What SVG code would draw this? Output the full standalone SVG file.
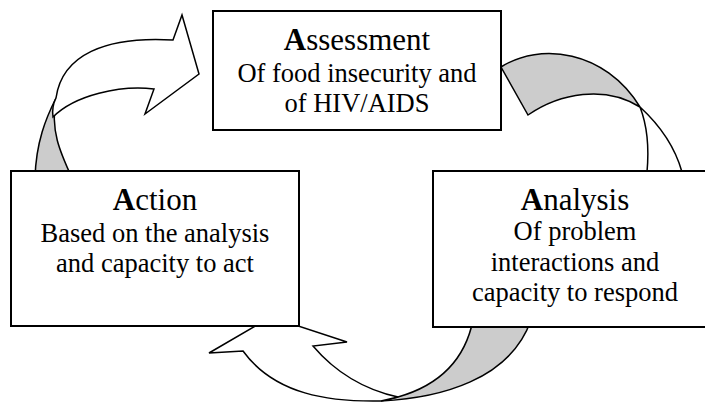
<svg xmlns="http://www.w3.org/2000/svg" width="705" height="402" viewBox="0 0 705 402">
<style>
  .box { fill: #ffffff; stroke: #000000; stroke-width: 2; }
  .face { fill: #ffffff; stroke: #000000; stroke-width: 1.5; stroke-linejoin: miter; }
  .back { fill: #cccccc; stroke: #000000; stroke-width: 1.5; stroke-linejoin: miter; }
  .title { font-family: "Liberation Serif", "Times New Roman", serif; font-size: 31px; fill: #000000; text-anchor: middle; }
  .body { font-family: "Liberation Serif", "Times New Roman", serif; font-size: 26.5px; fill: #000000; text-anchor: middle; }
  .b { font-weight: bold; }
</style>
<rect x="0" y="0" width="705" height="402" fill="#ffffff"/>
<g id="connectors">
  <!-- Action -> Assessment -->
  <g id="arrow-action-assessment">
    <path class="back" d="M 56,98 C 46,118 36,142 35,178 L 72,178 C 60,152 50,130 56,98 Z"/>
    <path class="face" d="M 56,98 C 62,55 105,36 173,40 L 182,15 L 199,74 L 145,114 L 154,89 C 120,85 75,95 53,117 C 52,110 53,104 56,98 Z"/>
  </g>
  <!-- Assessment -> Analysis -->
  <g id="arrow-assessment-analysis">
    <path class="back" d="M 501,67 C 540,42 605,50 640,107 C 605,85 560,93 528,115 Z"/>
    <path class="face" d="M 640,107 C 652,118 673,140 682,172 L 682,200 L 647,200 L 647,172 C 649,150 647,125 640,107 Z"/>
  </g>
  <!-- Analysis -> Action -->
  <g id="arrow-analysis-action">
    <path class="back" d="M 473,320 C 465,360 440,385 398,397 L 381,401 C 440,398 510,380 531,320 Z"/>
    <path class="face" d="M 381,401 C 330,402 275,395 243,351 L 209,353 L 271,317 L 347,342 L 313,346 C 335,372 365,390 398,397 Z"/>
  </g>
</g>
<g id="node-assessment">
  <rect class="box" x="213" y="11" width="288" height="119"/>
  <text class="title" x="357" y="50"><tspan class="b">A</tspan>ssessment</text>
  <text class="body" x="357" y="82">Of food insecurity and</text>
  <text class="body" x="357" y="112">of HIV/AIDS</text>
</g>
<g id="node-action">
  <rect class="box" x="11" y="171" width="288" height="155"/>
  <text class="title" x="155" y="210"><tspan class="b">A</tspan>ction</text>
  <text class="body" x="155" y="242">Based on the analysis</text>
  <text class="body" x="155" y="272">and capacity to act</text>
</g>
<g id="node-analysis">
  <rect class="box" x="433" y="171" width="284" height="156"/>
  <text class="title" x="575" y="210"><tspan class="b">A</tspan>nalysis</text>
  <text class="body" x="575" y="240">Of problem</text>
  <text class="body" x="575" y="271">interactions and</text>
  <text class="body" x="575" y="301">capacity to respond</text>
</g>
</svg>
